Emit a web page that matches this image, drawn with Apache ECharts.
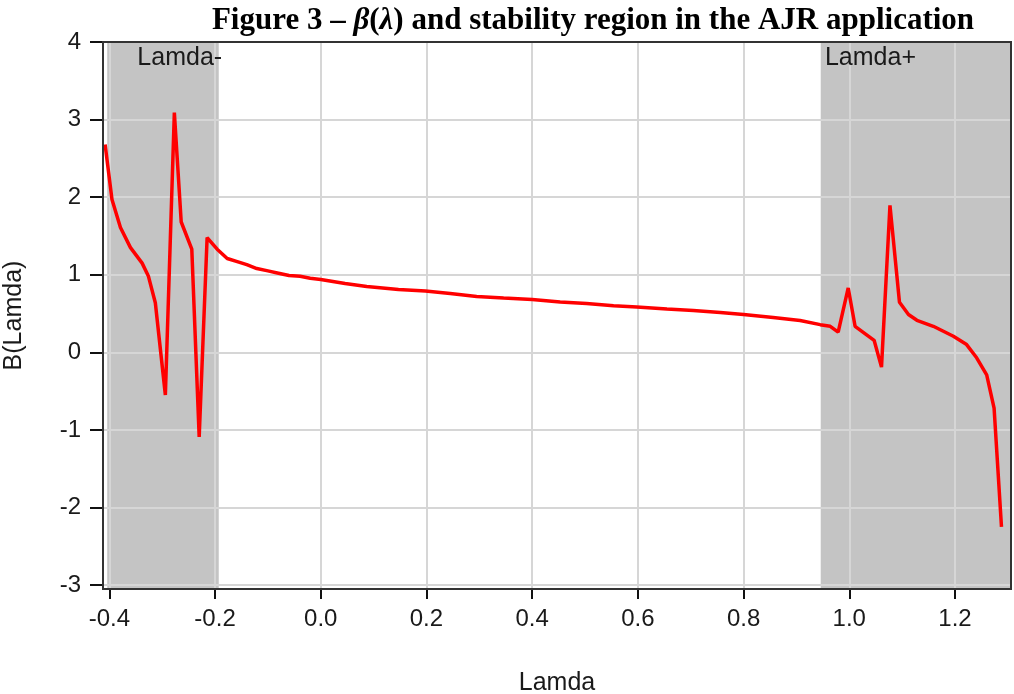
<!DOCTYPE html>
<html>
<head>
<meta charset="utf-8">
<script src="https://cdn.jsdelivr.net/npm/echarts@6/dist/echarts.min.js"></script>
<style>
html,body{margin:0;padding:0;background:#fff;}
#chart{width:1014px;height:694px;}
</style>
</head>
<body>
<div id="chart"></div>
<script>
// ---- data ----
const lambdaValues = [
  -0.408, -0.395, -0.379, -0.360, -0.338, -0.326, -0.313, -0.294, -0.277, -0.264,
  -0.244, -0.230, -0.215, -0.196, -0.177, -0.158, -0.140, -0.121, -0.100, -0.080,
  -0.060, -0.039, -0.020, 0.000, 0.046, 0.087, 0.147, 0.198, 0.245, 0.295,
  0.346, 0.400, 0.453, 0.503, 0.554, 0.598, 0.655, 0.705, 0.756, 0.800,
  0.856, 0.907, 0.945, 0.964, 0.979, 0.998, 1.011, 1.047, 1.061, 1.077,
  1.095, 1.112, 1.128, 1.159, 1.197, 1.222, 1.241, 1.260, 1.274, 1.288
];
const betaValues = [
  2.68, 1.97, 1.61, 1.35, 1.15, 0.98, 0.64, -0.55, 3.09, 1.68,
  1.33, -1.09, 1.48, 1.33, 1.21, 1.17, 1.13, 1.08, 1.05, 1.02,
  0.99, 0.98, 0.955, 0.94, 0.887, 0.85, 0.81, 0.79, 0.758, 0.72,
  0.70, 0.68, 0.65, 0.63, 0.60, 0.585, 0.56, 0.54, 0.515, 0.487,
  0.45, 0.41, 0.357, 0.336, 0.26, 0.83, 0.336, 0.155, -0.19, 1.895,
  0.645, 0.487, 0.413, 0.336, 0.207, 0.10, -0.07, -0.29, -0.72, -2.25
];
const regionStart = [-0.404, 0.946];
const regionEnd = [-0.193, 1.306];
const regionLabel = ['Lamda-', 'Lamda+'];
const regionLabelX = [-0.347, 0.954];
const xTicks = [-0.4, -0.2, 0.0, 0.2, 0.4, 0.6, 0.8, 1.0, 1.2];
const yTicks = [-3, -2, -1, 0, 1, 2, 3, 4];
const xMin = -0.412, xMax = 1.306, yMin = -3.05, yMax = 4;

const lineData = lambdaValues.map((x, i) => [x, betaValues[i]]);
const regionData = regionStart.map((s, i) => [s, regionEnd[i], regionLabelX[i]]);

const chart = echarts.init(document.getElementById('chart'), null, {renderer: 'canvas'});
const textColor = '#1a1a1a';
const sans = '"Liberation Sans", Arial, sans-serif';

chart.setOption({
  animation: false,
  backgroundColor: '#ffffff',
  title: {
    left: 588,
    textAlign: 'center',
    top: 0,
    text: '{b|Figure 3 – }{i|β}{b|(}{i|λ}{b|) and stability region in the AJR application}',
    textStyle: {
      rich: {
        b: {fontFamily: '"Liberation Serif", serif', fontWeight: 'bold', fontSize: 31, color: '#000'},
        i: {fontFamily: '"Liberation Serif", serif', fontWeight: 'bold', fontStyle: 'italic', fontSize: 31, color: '#000'}
      }
    }
  },
  grid: {
    left: 103, right: 3, top: 42, bottom: 105,
    containLabel: false, outerBoundsMode: 'none',
    show: true, borderColor: '#333', borderWidth: 2, z: 5
  },
  xAxis: {
    type: 'value', min: xMin, max: xMax, splitNumber: 8, z: 2,
    name: 'Lamda', nameLocation: 'middle', nameGap: 82,
    nameTextStyle: {fontFamily: sans, fontSize: 25, color: textColor},
    axisLine: {show: true, onZero: false, lineStyle: {color: '#111', width: 2}},
    axisTick: {show: true, length: 10, lineStyle: {color: '#111', width: 2}, customValues: xTicks},
    axisLabel: {fontFamily: sans, fontSize: 24, color: textColor, margin: 18,
      customValues: xTicks, formatter: v => Number(v).toFixed(1)},
    splitLine: {show: true, lineStyle: {color: '#d6d6d6', width: 2}}
  },
  yAxis: {
    type: 'value', min: yMin, max: yMax, splitNumber: 7, z: 2,
    name: 'B(Lamda)', nameLocation: 'middle', nameGap: 76,
    nameTextStyle: {fontFamily: sans, fontSize: 25, color: textColor},
    axisLine: {show: true, onZero: false, lineStyle: {color: '#111', width: 2}},
    axisTick: {show: true, length: 13, lineStyle: {color: '#111', width: 2}, customValues: yTicks},
    axisLabel: {fontFamily: sans, fontSize: 24, color: textColor, margin: 22,
      customValues: yTicks, formatter: v => String(Math.round(v))},
    splitLine: {show: true, lineStyle: {color: '#d6d6d6', width: 2}}
  },
  series: [
    {
      type: 'custom', z: 1, silent: true,
      data: regionData,
      renderItem: function (params, api) {
        const cs = params.coordSys;
        const a = api.coord([api.value(0), 0]);
        const b = api.coord([api.value(1), 0]);
        return {
          type: 'rect',
          shape: {x: a[0], y: cs.y, width: b[0] - a[0], height: cs.height},
          style: {fill: '#c4c4c4'}
        };
      }
    },
    {
      type: 'custom', z: 4, silent: true,
      data: regionData,
      renderItem: function (params, api) {
        const t = api.coord([api.value(2), yMax]);
        return {
          type: 'text', x: t[0], y: t[1] + 4,
          style: {text: regionLabel[params.dataIndex], font: '25px ' + sans,
            fill: textColor, align: 'left', verticalAlign: 'top'}
        };
      }
    },
    {
      type: 'line', z: 3,
      data: lineData,
      showSymbol: false, symbol: 'none',
      lineStyle: {color: '#ff0000', width: 3.5},
      clip: true
    }
  ]
});
</script>
</body>
</html>
